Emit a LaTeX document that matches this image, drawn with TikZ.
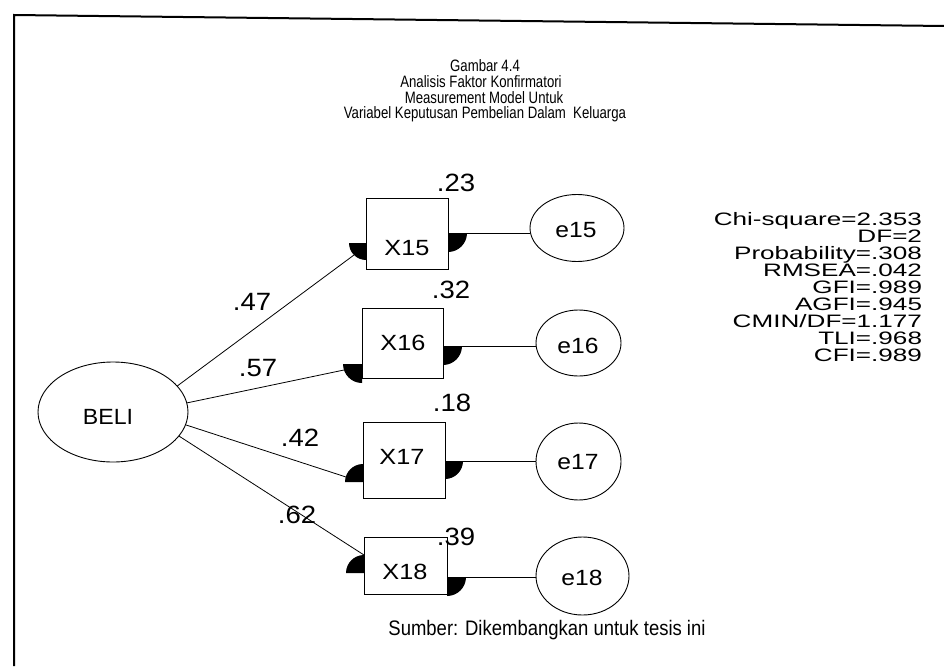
\documentclass[tikz,border=0pt]{standalone}
\usepackage{fontspec}
\setmainfont{Liberation Sans}
\usetikzlibrary{shapes.geometric}
\newcommand{\sx}[2]{\scalebox{#1}[1]{#2}}
\begin{document}
\begin{tikzpicture}[x=1pt,y=-1pt,
  every node/.style={inner sep=0pt, outer sep=0pt},
  obs/.style={draw, line width=0.9pt},
  lat/.style={draw, ellipse, line width=0.9pt},
  conn/.style={line width=0.8pt},
  disc/.style={fill=black},
  ttl/.style={font=\fontsize{16.5}{16.5}\selectfont, anchor=base},
  stat/.style={font=\fontsize{18}{18}\selectfont, anchor=base east},
  num/.style={font=\fontsize{25}{25}\selectfont},
  vlab/.style={font=\fontsize{22}{22}\selectfont},
  foot/.style={font=\fontsize{21}{21}\selectfont, anchor=base},
]
\useasboundingbox (0,0) rectangle (944,666);
\fill[white] (0,0) rectangle (944,666);
% frame
\draw[line width=2pt] (944,26) -- (14,15) -- (14,666);

% title
\node[ttl] (t1) at (485,72) {\sx{0.8}{Gambar 4.4}};
\node[ttl] (t2) at (481,88) {\sx{0.8}{Analisis Faktor Konfirmatori}};
\node[ttl] (t3) at (484,103.5) {\sx{0.8}{Measurement Model Untuk}};
\node[ttl] (t4) at (485,119) {\sx{0.8}{Variabel Keputusan Pembelian Dalam\ \ Keluarga}};

% latent
\node[lat, minimum width=150pt, minimum height=100pt] (beli) at (113,412) {};
\node[vlab] (belit) at (108,417) {\sx{1.05}{BELI}};

% observed boxes
\node[obs, minimum width=82pt, minimum height=71pt] (x15) at (407,233.5) {};
\node[obs, minimum width=81pt, minimum height=70pt] (x16) at (402.5,343) {};
\node[obs, minimum width=82pt, minimum height=76pt] (x17) at (404,460) {};
\node[obs, minimum width=83pt, minimum height=57pt] (x18) at (405.5,565.5) {};
\node[vlab] (x15t) at (407,248) {\sx{1.15}{X15}};
\node[vlab] (x16t) at (403,343) {\sx{1.15}{X16}};
\node[vlab] (x17t) at (402,457) {\sx{1.15}{X17}};
\node[vlab] (x18t) at (405,572) {\sx{1.15}{X18}};

% error ellipses
\node[lat, minimum width=94pt, minimum height=67pt] (e15) at (577,228) {};
\node[lat, minimum width=85pt, minimum height=66pt] (e16) at (578.5,343) {};
\node[lat, minimum width=85pt, minimum height=77pt] (e17) at (578.5,461.5) {};
\node[lat, minimum width=93pt, minimum height=78pt] (e18) at (582.5,576) {};
\node[vlab] (e15t) at (576,230) {\sx{1.12}{e15}};
\node[vlab] (e16t) at (578,346) {\sx{1.12}{e16}};
\node[vlab] (e17t) at (578,462) {\sx{1.12}{e17}};
\node[vlab] (e18t) at (582,578) {\sx{1.12}{e18}};

% quarter discs (arrow ends)
\fill[disc] (448,233) -- ++(19pt,0pt) arc[start angle=0,end angle=-90,radius=19pt] -- cycle;
\fill[disc] (366,243) -- ++(-17pt,0pt) arc[start angle=180,end angle=270,radius=17pt] -- cycle;
\fill[disc] (443,346) -- ++(19pt,0pt) arc[start angle=0,end angle=-90,radius=19pt] -- cycle;
\fill[disc] (362,364) -- ++(-19pt,0pt) arc[start angle=180,end angle=270,radius=19pt] -- cycle;
\fill[disc] (445,461) -- ++(18pt,0pt) arc[start angle=0,end angle=-90,radius=18pt] -- cycle;
\fill[disc] (363,482) -- ++(0pt,18pt) arc[start angle=90,end angle=180,radius=18pt] -- cycle;
\fill[disc] (447,577) -- ++(19pt,0pt) arc[start angle=0,end angle=-90,radius=19pt] -- cycle;
\fill[disc] (364,573) -- ++(0pt,18pt) arc[start angle=90,end angle=180,radius=18pt] -- cycle;

% connector end points
\coordinate (a15) at (354,255);
\coordinate (a16) at (344,370);
\coordinate (a17) at (346,477);
\coordinate (a18) at (364,555);
\coordinate (r15) at (448,233);
\coordinate (r16) at (443,346);
\coordinate (r17) at (445,461);
\coordinate (r18) at (447,577);

% loadings
\draw[conn] (beli.22) -- (a15);
\draw[conn] (beli.7) -- (a16);
\draw[conn] (beli.-10) -- (a17);
\draw[conn] (beli.-20) -- (a18);
% error paths
\draw[conn] (r15) -- (e15.west |- r15);
\draw[conn] (r16) -- (e16.west |- r16);
\draw[conn] (r17) -- (e17.west |- r17);
\draw[conn] (r18) -- (e18.west |- r18);

% loading labels
\node[num] (l47) at (252,302) {\sx{1.1}{.47}};
\node[num] (l57) at (258,368) {\sx{1.1}{.57}};
\node[num] (l42) at (300,438) {\sx{1.1}{.42}};
\node[num] (l62) at (297,515) {\sx{1.1}{.62}};
% squared multiple correlations
\node[num] (s23) at (456,183) {\sx{1.1}{.23}};
\node[num] (s32) at (451,290) {\sx{1.1}{.32}};
\node[num] (s18) at (452,403) {\sx{1.1}{.18}};
\node[num] (s39) at (456,537) {\sx{1.1}{.39}};

% fit statistics
\node[stat] (f1) at (922,225) {\sx{1.45}{Chi-square=2.353}};
\node[stat] (f2) at (922,242) {\sx{1.45}{DF=2}};
\node[stat] (f3) at (922,259) {\sx{1.45}{Probability=.308}};
\node[stat] (f4) at (922,276) {\sx{1.45}{RMSEA=.042}};
\node[stat] (f5) at (922,293) {\sx{1.45}{GFI=.989}};
\node[stat] (f6) at (922,310) {\sx{1.45}{AGFI=.945}};
\node[stat] (f7) at (922,327) {\sx{1.45}{CMIN/DF=1.177}};
\node[stat] (f8) at (922,344) {\sx{1.45}{TLI=.968}};
\node[stat] (f9) at (922,361) {\sx{1.45}{CFI=.989}};

% footer
\node[foot] (src) at (547,635) {\sx{0.88}{Sumber: Dikembangkan untuk tesis ini}};
\end{tikzpicture}
\end{document}
